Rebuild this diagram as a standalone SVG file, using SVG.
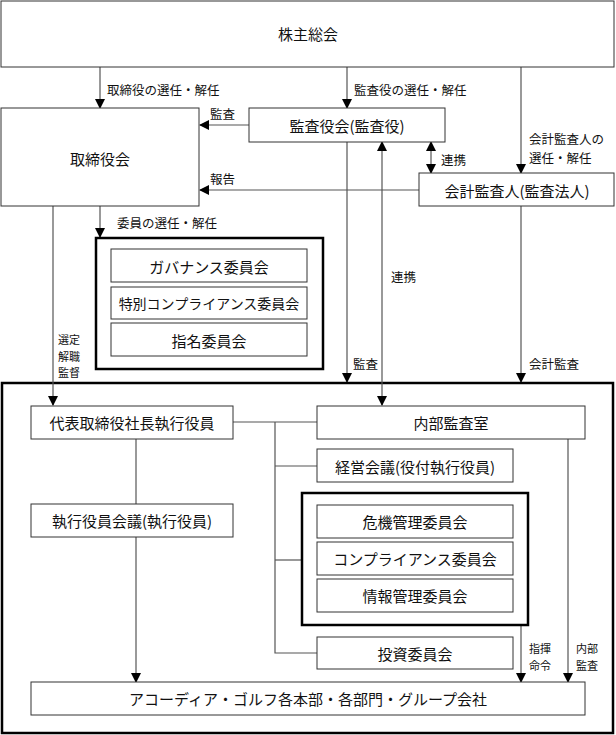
<svg xmlns="http://www.w3.org/2000/svg" width="616" height="735" viewBox="0 0 616 735">
<style>
text{font-family:"Noto Sans CJK JP","Noto Sans CJK SC",sans-serif;fill:#111;dominant-baseline:central}
.m{font-size:15px;text-anchor:middle}
.s{font-size:12.5px}
.t{font-size:11px}
.box{fill:#fff;stroke:#333;stroke-width:1}
.thick{fill:none;stroke:#000;stroke-width:2.5}
.ln{fill:none;stroke:#555;stroke-width:1.2}
.a{marker-end:url(#ah)}
.d{marker-end:url(#ah);marker-start:url(#ah)}
</style>
<defs>
<marker id="ah" markerUnits="userSpaceOnUse" markerWidth="10" markerHeight="10" refX="9" refY="5" orient="auto-start-reverse">
<path d="M0,0 L10,5 L0,10 z" fill="#000"/>
</marker>
</defs>
<rect width="616" height="735" fill="#fff"/>
<g id="outer-exec"><rect x="2" y="383" width="611" height="350" class="thick"/></g>
<g id="connectors">
<line x1="100" y1="67" x2="100" y2="108" class="ln a"/>
<line x1="347" y1="67" x2="347" y2="108" class="ln a"/>
<line x1="521" y1="67" x2="521" y2="173" class="ln a"/>
<line x1="249" y1="125" x2="200" y2="125" class="ln a"/>
<line x1="419" y1="190" x2="200" y2="190" class="ln a"/>
<line x1="431" y1="142" x2="431" y2="173" class="ln d"/>
<line x1="347" y1="142" x2="347" y2="382" class="ln a"/>
<line x1="382" y1="142" x2="382" y2="405" class="ln d"/>
<line x1="521" y1="206" x2="521" y2="382" class="ln a"/>
<line x1="53" y1="206" x2="53" y2="405" class="ln a"/>
<line x1="100" y1="206" x2="100" y2="237" class="ln a"/>
<line x1="233" y1="422" x2="317" y2="422" class="ln"/>
<polyline points="275,422 275,653 317,653" class="ln"/>
<line x1="275" y1="466" x2="317" y2="466" class="ln"/>
<line x1="275" y1="560" x2="302" y2="560" class="ln"/>
<line x1="136" y1="439" x2="136" y2="504" class="ln"/>
<line x1="136" y1="537" x2="136" y2="682" class="ln a"/>
<line x1="521" y1="625" x2="521" y2="682" class="ln a"/>
<line x1="568" y1="439" x2="568" y2="682" class="ln a"/>
</g>
<g id="labels">
<text x="107" y="89" class="s">取締役の選任・解任</text>
<text x="354" y="89" class="s">監査役の選任・解任</text>
<text x="529" y="138" class="s">会計監査人の</text>
<text x="529" y="157" class="s">選任・解任</text>
<text x="210" y="113" class="s">監査</text>
<text x="210" y="178" class="s">報告</text>
<text x="441" y="159" class="s">連携</text>
<text x="117" y="222" class="s">委員の選任・解任</text>
<text x="391" y="276" class="s">連携</text>
<text x="58" y="339" class="t">選定</text>
<text x="58" y="355.5" class="t">解職</text>
<text x="58" y="372" class="t">監督</text>
<text x="353" y="363" class="s">監査</text>
<text x="529" y="363" class="s">会計監査</text>
<text x="529" y="648" class="t">指揮</text>
<text x="529" y="664.5" class="t">命令</text>
<text x="576" y="648" class="t">内部</text>
<text x="576" y="664.5" class="t">監査</text>
</g>
<g id="n-shareholders"><rect x="1" y="1" width="613" height="66" class="box"/><text x="308" y="33" class="m">株主総会</text></g>
<g id="n-board"><rect x="1" y="108" width="198" height="98" class="box"/><text x="100" y="158" class="m">取締役会</text></g>
<g id="n-auditors"><rect x="249" y="108" width="196" height="34" class="box"/><text x="347" y="125" class="m">監査役会(監査役)</text></g>
<g id="n-accountant"><rect x="419" y="173" width="195" height="33" class="box"/><text x="517" y="190" class="m">会計監査人(監査法人)</text></g>
<g id="n-committees"><rect x="96" y="238" width="227" height="131" class="thick"/>
<rect x="111" y="249" width="196" height="33" class="box"/><text x="209" y="266" class="m">ガバナンス委員会</text>
<rect x="111" y="287" width="196" height="32" class="box"/><text x="209" y="303" class="m" style="font-size:14px">特別コンプライアンス委員会</text>
<rect x="111" y="323" width="196" height="33" class="box"/><text x="209" y="340" class="m">指名委員会</text>
</g>
<g id="n-president"><rect x="31" y="406" width="202" height="33" class="box"/><text x="132" y="422" class="m">代表取締役社長執行役員</text></g>
<g id="n-internal-audit"><rect x="317" y="406" width="268" height="33" class="box"/><text x="451" y="422" class="m">内部監査室</text></g>
<g id="n-management"><rect x="317" y="449" width="196" height="33" class="box"/><text x="415" y="466" class="m">経営会議(役付執行役員)</text></g>
<g id="n-exec-meeting"><rect x="31" y="504" width="202" height="33" class="box"/><text x="132" y="520" class="m">執行役員会議(執行役員)</text></g>
<g id="n-risk-group"><rect x="302" y="493" width="226" height="132" class="thick"/>
<rect x="317" y="505" width="196" height="33" class="box"/><text x="415" y="521" class="m">危機管理委員会</text>
<rect x="317" y="542" width="196" height="33" class="box"/><text x="415" y="558" class="m">コンプライアンス委員会</text>
<rect x="317" y="579" width="196" height="33" class="box"/><text x="415" y="595" class="m">情報管理委員会</text>
</g>
<g id="n-investment"><rect x="317" y="637" width="196" height="32" class="box"/><text x="415" y="653" class="m">投資委員会</text></g>
<g id="n-group"><rect x="31" y="682" width="554" height="33" class="box"/><text x="308" y="698" class="m">アコーディア・ゴルフ各本部・各部門・グループ会社</text></g>
</svg>
